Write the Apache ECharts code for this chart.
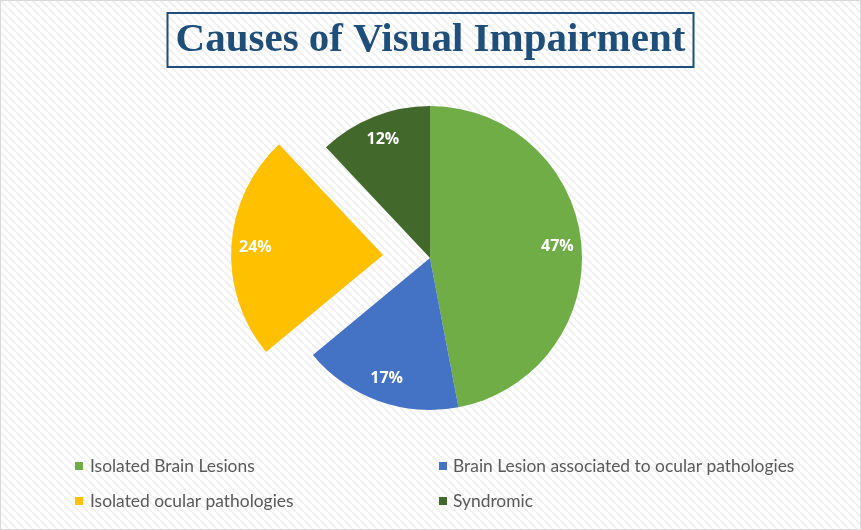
<!DOCTYPE html>
<html>
<head>
<meta charset="utf-8">
<script src="https://cdn.jsdelivr.net/npm/echarts@6/dist/echarts.min.js"></script>
<style>
html,body{margin:0;padding:0;background:#fff;}
#chart{width:861px;height:530px;}
</style>
</head>
<body>
<div id="chart"></div>
<script>
const categories = ["Isolated Brain Lesions", "Brain Lesion associated to ocular pathologies", "Isolated ocular pathologies", "Syndromic"];
const values = [47, 17, 24, 12];
const colors = ["#70AD47", "#4472C4", "#FFC000", "#43682B"];
const explodedIndex = 2;
const titleText = "Causes of Visual Impairment";

// background stripe pattern
const pc = document.createElement('canvas');
pc.width = 8; pc.height = 8;
const pctx = pc.getContext('2d');
pctx.fillStyle = '#ffffff';
pctx.fillRect(0,0,8,8);
pctx.strokeStyle = '#f0f0f0';
pctx.lineWidth = 2;
pctx.beginPath();
for (let k = -8; k <= 16; k += 8) { pctx.moveTo(k, 0); pctx.lineTo(k + 8, 8); }
pctx.stroke();

const pieData = categories.map((c, i) => ({
  name: c, value: values[i], selected: i === explodedIndex,
  itemStyle: { color: colors[i] }
}));
const labelData = categories.map((c, i) => ({
  name: c, value: values[i], selected: i === explodedIndex
}));

const legendText = { fontFamily: 'Lato, "Open Sans", sans-serif', fontSize: 17.4, lineHeight: 20, color: '#595959' };

const chart = echarts.init(document.getElementById('chart'));
chart.setOption({
  backgroundColor: { image: pc, repeat: 'repeat' },
  animation: false,
  title: {
    text: titleText,
    left: 'center',
    top: 13,
    padding: [4, 8, 4, 8],
    borderColor: '#1F4E79',
    borderWidth: 2,
    textStyle: {
      fontFamily: '"Liberation Serif", "Times New Roman", serif',
      fontWeight: 'bold',
      fontSize: 41,
      lineHeight: 46,
      color: '#1F4E79'
    }
  },
  legend: [
    {
      data: [categories[0], categories[2]],
      orient: 'vertical',
      left: 75, top: 456, padding: 0,
      icon: 'rect', itemWidth: 8, itemHeight: 8, itemGap: 15,
      selectedMode: false,
      textStyle: Object.assign({}, legendText, { padding: [0,0,0,2] })
    },
    {
      data: [categories[1], categories[3]],
      orient: 'vertical',
      left: 439, top: 456, padding: 0,
      icon: 'rect', itemWidth: 8, itemHeight: 8, itemGap: 15,
      selectedMode: false,
      textStyle: Object.assign({}, legendText, { padding: [0,0,0,1] })
    }
  ],
  graphic: [{
    type: 'rect', silent: true,
    shape: { x: 0.5, y: 0.5, width: 860, height: 529 },
    style: { fill: 'none', stroke: '#D9D9D9', lineWidth: 1 }
  }],
  series: [
    {
      type: 'pie',
      center: [430, 258],
      radius: [0, 152],
      startAngle: 90,
      clockwise: true,
      selectedMode: 'single',
      selectedOffset: 47,
      label: { show: false },
      labelLine: { show: false },
      emphasis: { disabled: true },
      data: pieData
    },
    {
      type: 'pie',
      center: [430, 258],
      radius: [98, 152],
      startAngle: 90,
      clockwise: true,
      selectedMode: 'single',
      selectedOffset: 47,
      silent: true,
      legendHoverLink: false,
      itemStyle: { color: 'rgba(0,0,0,0)' },
      label: {
        show: true,
        position: 'inside',
        formatter: '{d}%',
        color: '#ffffff',
        fontFamily: '"Open Sans", sans-serif',
        fontWeight: 'bold',
        fontSize: 16
      },
      labelLine: { show: false },
      emphasis: { disabled: true },
      data: labelData
    }
  ]
});
</script>
</body>
</html>
